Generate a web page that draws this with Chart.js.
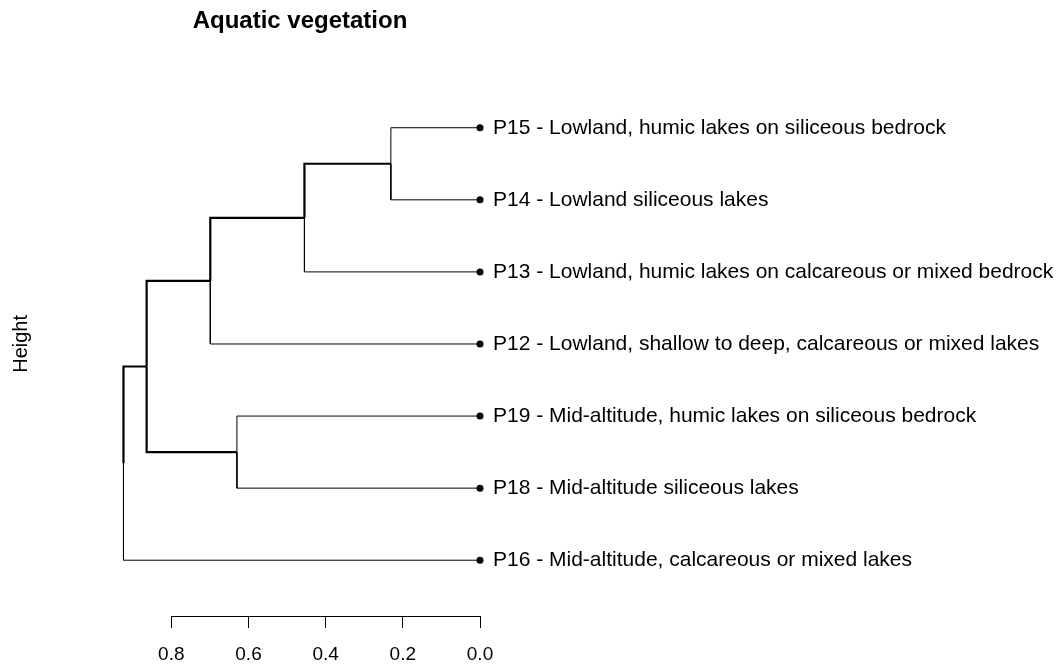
<!DOCTYPE html>
<html>
<head>
<meta charset="utf-8">
<title>Aquatic vegetation</title>
<script src="https://cdn.jsdelivr.net/npm/chart.js@4/dist/chart.umd.min.js"></script>
<style>
  html, body { margin: 0; padding: 0; background: #fff; }
  #wrap { width: 1063px; height: 668px; position: relative; }
</style>
</head>
<body>
<div id="wrap"><canvas id="dendro"></canvas></div>
<script>
// Leaves, top to bottom
const leafLabels = [
    'P15 - Lowland, humic lakes on siliceous bedrock',
    'P14 - Lowland siliceous lakes',
    'P13 - Lowland, humic lakes on calcareous or mixed bedrock',
    'P12 - Lowland, shallow to deep, calcareous or mixed lakes',
    'P19 - Mid-altitude, humic lakes on siliceous bedrock',
    'P18 - Mid-altitude siliceous lakes',
    'P16 - Mid-altitude, calcareous or mixed lakes'
];

// Merge steps, hclust style: negative = leaf number, positive = earlier merge
const mergeA = [-1, 1, 2, -5, 3, 5];
const mergeB = [-2, -3, -4, -6, 4, -7];
const mergeHeight = [0.231, 0.455, 0.699, 0.630, 0.864, 0.924];

const heightTicks = [0, 0.2, 0.4, 0.6, 0.8];

const FONT = "'Liberation Sans', Arial, Helvetica, sans-serif";
Chart.defaults.font.family = FONT;
Chart.defaults.color = '#000';

// y position of a leaf: top leaf highest
const leafY = i => leafLabels.length + 1 - i;

// node -> {h, y}
function nodePos(id) {
    if (id < 0) return { h: 0, y: leafY(-id) };
    const a = nodePos(mergeA[id - 1]);
    const b = nodePos(mergeB[id - 1]);
    return { h: mergeHeight[id - 1], y: (a.y + b.y) / 2 };
}

// one dataset per branch: down/up from parent, then across to child
const datasets = [];
mergeHeight.forEach((h, k) => {
    const parent = nodePos(k + 1);
    [mergeA[k], mergeB[k]].forEach(child => {
        const c = nodePos(child);
        const isLeaf = child < 0;
        datasets.push({
            data: [
                { x: h, y: parent.y },
                { x: h, y: c.y },
                { x: c.h, y: c.y }
            ],
            showLine: true,
            borderColor: '#000',
            borderWidth: isLeaf ? 1 : 2.2,
            pointRadius: 0,
            pointHoverRadius: 0,
            fill: false,
            clip: false
        });
    });
});

// leaf dots
datasets.push({
    data: leafLabels.map((_, i) => ({ x: 0, y: leafY(i + 1) })),
    showLine: false,
    pointRadius: 3.5,
    pointBackgroundColor: '#000',
    pointBorderWidth: 0,
    clip: false
});

// R style axis line, only across the tick range
const axisLine = {
    id: 'axisLine',
    afterDraw(chart) {
        const sx = chart.scales.x;
        const ctx = chart.ctx;
        const y = Math.round(sx.top) + 0.5;
        ctx.save();
        ctx.strokeStyle = '#000';
        ctx.lineWidth = 1;
        ctx.beginPath();
        ctx.moveTo(sx.getPixelForValue(heightTicks[heightTicks.length - 1]), y);
        ctx.lineTo(sx.getPixelForValue(heightTicks[0]), y);
        ctx.stroke();
        ctx.restore();
    }
};

new Chart(document.getElementById('dendro'), {
    type: 'scatter',
    data: { datasets },
    plugins: [axisLine],
    options: {
        responsive: true,
        maintainAspectRatio: false,
        animation: false,
        events: [],
        layout: { padding: 0 },
        plugins: {
            legend: { display: false },
            tooltip: { enabled: false },
            title: {
                display: true,
                text: 'Aquatic vegetation',
                fullSize: false,
                color: '#000',
                font: { size: 24, weight: 'bold' },
                padding: { top: 7, bottom: 36 }
            }
        },
        scales: {
            x: {
                type: 'linear',
                position: 'bottom',
                reverse: true,
                min: 0,
                max: 0.933,
                afterBuildTicks: s => { s.ticks = heightTicks.map(v => ({ value: v })); },
                afterFit: s => { s.height = 52; },
                ticks: {
                    autoSkip: false,
                    maxRotation: 0,
                    padding: 15,
                    color: '#000',
                    font: { size: 19 },
                    callback: v => v.toFixed(1)
                },
                grid: {
                    drawOnChartArea: false,
                    drawTicks: true,
                    tickLength: 12,
                    color: '#000',
                    lineWidth: 1
                },
                border: { display: false }
            },
            y: {
                type: 'linear',
                position: 'left',
                min: 0.226,
                max: 7.776,
                afterFit: s => { s.width = 120; },
                ticks: { display: false },
                grid: { display: false, drawTicks: false },
                border: { display: false },
                title: {
                    display: true,
                    text: 'Height',
                    color: '#000',
                    font: { size: 20 },
                    padding: { top: 9, bottom: 0 }
                }
            },
            labels: {
                type: 'linear',
                position: 'right',
                min: 0.226,
                max: 7.776,
                afterBuildTicks: s => {
                    s.ticks = leafLabels.map((_, i) => ({ value: leafY(i + 1) }));
                },
                afterFit: s => { s.width = 583; },
                ticks: {
                    autoSkip: false,
                    padding: 13,
                    crossAlign: 'near',
                    color: '#000',
                    font: { size: 21 },
                    callback: v => leafLabels[leafLabels.length - v]
                },
                grid: { display: false, drawTicks: false },
                border: { display: false }
            }
        }
    }
});
</script>
</body>
</html>
